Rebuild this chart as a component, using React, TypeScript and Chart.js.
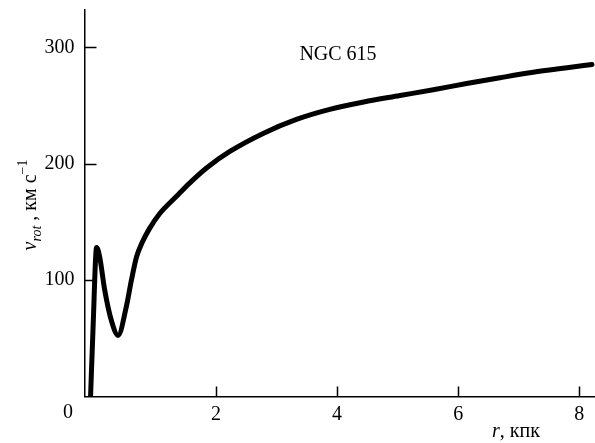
import React, { useEffect, useRef } from "react";
import { Chart, registerables } from "chart.js";

Chart.register(...registerables);

// Rotation curve of NGC 615 (r in kpc, v_rot in km/s)
const radiusKpc = [
  -0.07, -0.03, 0.03, 0.08, 0.165, 0.275, 0.385, 0.52, 0.605, 0.69, 0.78,
  0.9, 1.07, 1.35, 1.57, 1.85, 2.23, 2.78, 3.33, 3.88, 4.44, 5.04, 5.59,
  6.14, 6.69, 7.24, 7.8, 8.21,
];
const velocityKms = [
  0, 57, 128, 120, 91, 65, 52.5, 77, 100, 120, 132, 144, 157, 172, 183.5,
  196.5, 210.5, 226, 238, 246.6, 253, 258.5, 263.5, 268.8, 273.8, 278.5,
  282.4, 285.2,
];
const xTickValues = [2, 4, 6, 8];
const yTickValues = [100, 200, 300];
const originLabel = "0";
const galaxyName = "NGC 615";

const FONT = "'Liberation Serif', 'Times New Roman', serif";

export default function App() {
  const ref = useRef<HTMLCanvasElement>(null);

  useEffect(() => {
    document.body.style.margin = "0";
    const canvas = ref.current;
    if (!canvas) return;

    const annotations = {
      id: "annotations",
      afterDraw(chart: any) {
        const ctx = chart.ctx as CanvasRenderingContext2D;
        const xs = chart.scales.x;
        const ys = chart.scales.y;
        const area = chart.chartArea;
        ctx.save();
        ctx.strokeStyle = "#000";
        ctx.lineWidth = 1.5;
        // inward tick marks
        ctx.beginPath();
        for (const v of yTickValues) {
          const py = Math.round(ys.getPixelForValue(v)) + 0.5;
          ctx.moveTo(area.left, py);
          ctx.lineTo(area.left + 12, py);
        }
        for (const v of xTickValues) {
          const px = Math.round(xs.getPixelForValue(v)) + 0.5;
          ctx.moveTo(px, area.bottom);
          ctx.lineTo(px, area.bottom - 10);
        }
        ctx.stroke();

        ctx.fillStyle = "#000";
        // origin label
        ctx.font = `20px ${FONT}`;
        ctx.textAlign = "center";
        ctx.textBaseline = "middle";
        ctx.fillText(originLabel, 68, 413);

        // galaxy name
        ctx.fillText(galaxyName, 338, 55);

        // x-axis title: r, кпк
        ctx.textBaseline = "alphabetic";
        ctx.textAlign = "left";
        ctx.font = `italic 20px ${FONT}`;
        const rW = ctx.measureText("r").width;
        ctx.font = `20px ${FONT}`;
        const restW = ctx.measureText(", кпк").width;
        const x0 = 516 - (rW + restW) / 2;
        ctx.font = `italic 20px ${FONT}`;
        ctx.fillText("r", x0, 437);
        ctx.font = `20px ${FONT}`;
        ctx.fillText(", кпк", x0 + rW, 437);

        // y-axis title: v_rot , км с^−1 (rotated)
        ctx.save();
        ctx.translate(36, 205);
        ctx.rotate(-Math.PI / 2);
        const parts = [
          { t: "v", f: `italic 20px ${FONT}`, dy: 0 },
          { t: "rot", f: `italic 14px ${FONT}`, dy: 5 },
          { t: " , км с", f: `20px ${FONT}`, dy: 0 },
          { t: "−1", f: `14px ${FONT}`, dy: -9 },
        ];
        let total = 0;
        const widths = parts.map((p) => {
          ctx.font = p.f;
          const w = ctx.measureText(p.t).width;
          total += w;
          return w;
        });
        let cx = -total / 2;
        parts.forEach((p, i) => {
          ctx.font = p.f;
          ctx.fillText(p.t, cx, p.dy);
          cx += widths[i];
        });
        ctx.restore();
        ctx.restore();
      },
    };

    const chart = new Chart(canvas, {
      type: "line",
      data: {
        datasets: [
          {
            data: radiusKpc.map((r, i) => ({ x: r, y: velocityKms[i] })),
            borderColor: "#000",
            borderWidth: 5,
            pointRadius: 0,
            fill: false,
            cubicInterpolationMode: "monotone",
            borderCapStyle: "round",
            borderJoinStyle: "round",
          },
        ],
      },
      options: {
        responsive: false,
        animation: false,
        layout: { padding: { top: 10, right: 0, left: 0, bottom: 0 } },
        plugins: {
          legend: { display: false },
          tooltip: { enabled: false },
          title: { display: false },
        },
        scales: {
          x: {
            type: "linear",
            min: -0.17,
            max: 8.26,
            afterBuildTicks: (s: any) => {
              s.ticks = xTickValues.map((v) => ({ value: v }));
            },
            afterFit: (s: any) => {
              s.height = 46.5;
              s.paddingLeft = 0;
              s.paddingRight = 0;
            },
            grid: { display: false, drawTicks: false },
            border: { display: true, color: "#000", width: 1.5 },
            ticks: {
              font: { family: FONT, size: 20 },
              color: "#000",
              padding: 6,
              maxRotation: 0,
              autoSkip: false,
            },
          },
          y: {
            type: "linear",
            min: 0,
            max: 332,
            afterBuildTicks: (s: any) => {
              s.ticks = yTickValues.map((v) => ({ value: v }));
            },
            afterFit: (s: any) => {
              s.width = 84.5;
              s.paddingTop = 0;
              s.paddingBottom = 0;
            },
            grid: { display: false, drawTicks: false },
            border: { display: true, color: "#000", width: 1.5 },
            ticks: {
              font: { family: FONT, size: 20 },
              color: "#000",
              padding: 10,
              autoSkip: false,
            },
          },
        },
      },
      plugins: [annotations],
    });

    return () => chart.destroy();
  }, []);

  return (
    <div style={{ width: 595, height: 443, background: "#fff" }}>
      <canvas ref={ref} width={595} height={443} style={{ display: "block" }} />
    </div>
  );
}
